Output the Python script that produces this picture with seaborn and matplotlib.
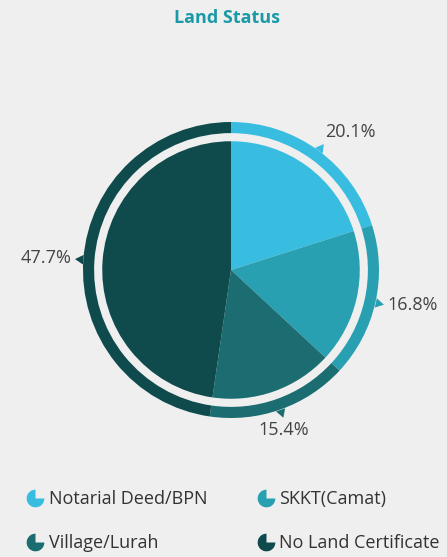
import numpy as np
import matplotlib
matplotlib.use("Agg")
import matplotlib.pyplot as plt
from matplotlib.lines import Line2D
from matplotlib.path import Path
import seaborn as sns

# ── data ───────────────────────────────────────────────
title = "Land Status"
categories = ["Notarial Deed/BPN", "SKKT(Camat)", "Village/Lurah", "No Land Certificate"]
shares = [20.1, 16.8, 15.4, 47.7]
pct_labels = ["20.1%", "16.8%", "15.4%", "47.7%"]

BG = "#efefef"
palette = sns.color_palette(["#38bde0", "#29a0b1", "#1b6d72", "#0f4a4c"])

sns.set_theme(style="white", rc={"figure.facecolor": BG, "axes.facecolor": BG})
plt.rcParams["font.family"] = ["Open Sans", "DejaVu Sans"]

W_PX, H_PX = 447, 557
fig = plt.figure(figsize=(W_PX / 100, H_PX / 100), dpi=100)

# pie geometry in pixels: centre and outer ring radius
cx, cy, R_PX = 231, 270, 148
L = 1.45
S = 2 * L * R_PX
ax = fig.add_axes([(cx - S / 2) / W_PX, (H_PX - cy - S / 2) / H_PX, S / W_PX, S / H_PX])

# outer ring
wedges, _ = ax.pie(shares, colors=palette, startangle=90, counterclock=False,
                   radius=1.0, wedgeprops=dict(width=0.075, linewidth=0))
# inner pie
ax.pie(shares, colors=palette, startangle=90, counterclock=False,
       radius=0.87, wedgeprops=dict(linewidth=0))

for w, lab, col in zip(wedges, pct_labels, palette):
    deg = (w.theta1 + w.theta2) / 2
    c, s = np.cos(np.deg2rad(deg)), np.sin(np.deg2rad(deg))
    # small pointer on the ring
    ax.plot(1.02 * c, 1.02 * s, marker=(3, 0, deg - 90), ms=8, color=col, mew=0)
    ha = "left" if c > 0.4 else ("right" if c < -0.4 else "center")
    va = "bottom" if s > 0.4 else ("top" if s < -0.4 else "center")
    ax.text(1.08 * c, 1.08 * s, lab, ha=ha, va=va, fontsize=13, color="#444444")

ax.set_xlim(-L, L)
ax.set_ylim(-L, L)
ax.set_aspect("equal")
ax.axis("off")

fig.text(227 / W_PX, 1 - 18 / H_PX, title, ha="center", va="center",
         fontsize=13, fontweight="bold", color="#1a9aa6")

# legend with pie-shaped icons, row-major order (legend fills columns first)
icon = Path.wedge(90, 360)
order = [0, 2, 1, 3]
handles = [Line2D([], [], marker=icon, ls="none", ms=13, color=palette[i], mew=0) for i in order]
fig.legend(handles, [categories[i] for i in order], ncol=2, loc="upper left",
           bbox_to_anchor=(27 / W_PX, 1 - 490 / H_PX), frameon=False,
           fontsize=13, handlelength=0.9, handletextpad=0.3,
           columnspacing=2.8, labelspacing=1.45, labelcolor="#333333",
           borderaxespad=0, borderpad=0)

fig.savefig("out.png", dpi=100, facecolor=BG)
